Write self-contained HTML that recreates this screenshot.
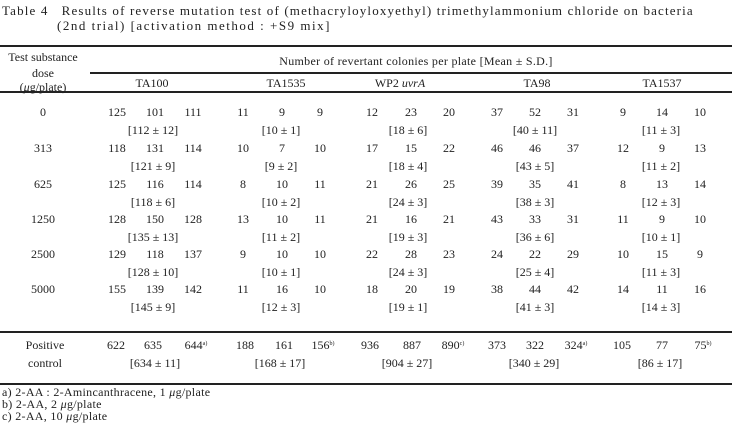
<!DOCTYPE html>
<html><head><meta charset="utf-8"><style>
body{margin:0;width:732px;height:424px;background:#fff;position:relative;overflow:hidden;font-family:"Liberation Serif","Noto Serif CJK SC",serif;color:#222;font-size:12px}
.t{position:absolute;white-space:nowrap;transform:translate(-50%,-50%);line-height:1}
.l{position:absolute;white-space:nowrap;line-height:1}
.r{position:absolute;background:#222}
sup{font-size:6px;vertical-align:4px}
</style></head><body>
<div class="l" style="left:2px;top:4px;font-size:13px;letter-spacing:1.15px">Table 4&nbsp;&nbsp; Results of reverse mutation test of (methacryloyloxyethyl) trimethylammonium chloride on bacteria</div>
<div class="l" style="left:57px;top:19px;font-size:13px;letter-spacing:1.5px">(2nd trial) [activation method : +S9 mix]</div>
<div class="r" style="left:0;top:45px;width:732px;height:2px"></div>
<div class="r" style="left:90px;top:72px;width:642px;height:2px"></div>
<div class="r" style="left:0;top:91px;width:732px;height:2px"></div>
<div class="r" style="left:0;top:331px;width:732px;height:2px"></div>
<div class="r" style="left:0;top:383px;width:732px;height:2px"></div>
<div class="t" style="left:43px;top:57px">Test substance</div>
<div class="t" style="left:43px;top:73px">dose</div>
<div class="t" style="left:43px;top:87px">(<i>μ</i>g/plate)</div>
<div class="t" style="left:416px;top:61px;letter-spacing:0.3px">Number of revertant colonies per plate [Mean ± S.D.]</div>
<div class="t" style="left:152px;top:83px">TA100</div>
<div class="t" style="left:286px;top:83px">TA1535</div>
<div class="t" style="left:400px;top:83px">WP2 <i>uvrA</i></div>
<div class="t" style="left:537px;top:83px">TA98</div>
<div class="t" style="left:662px;top:83px">TA1537</div>

<div class="t" style="left:43px;top:112px">0</div>
<div class="t" style="left:117px;top:112px">125</div><div class="t" style="left:155px;top:112px">101</div><div class="t" style="left:193px;top:112px">111</div>
<div class="t" style="left:243px;top:112px">11</div><div class="t" style="left:282px;top:112px">9</div><div class="t" style="left:320px;top:112px">9</div>
<div class="t" style="left:372px;top:112px">12</div><div class="t" style="left:411px;top:112px">23</div><div class="t" style="left:449px;top:112px">20</div>
<div class="t" style="left:497px;top:112px">37</div><div class="t" style="left:535px;top:112px">52</div><div class="t" style="left:573px;top:112px">31</div>
<div class="t" style="left:623px;top:112px">9</div><div class="t" style="left:662px;top:112px">14</div><div class="t" style="left:700px;top:112px">10</div>
<div class="t" style="left:153px;top:130px">[112 ± 12]</div><div class="t" style="left:281px;top:130px">[10 ± 1]</div><div class="t" style="left:408px;top:130px">[18 ± 6]</div><div class="t" style="left:535px;top:130px">[40 ± 11]</div><div class="t" style="left:661px;top:130px">[11 ± 3]</div>

<div class="t" style="left:43px;top:148px">313</div>
<div class="t" style="left:117px;top:148px">118</div><div class="t" style="left:155px;top:148px">131</div><div class="t" style="left:193px;top:148px">114</div>
<div class="t" style="left:243px;top:148px">10</div><div class="t" style="left:282px;top:148px">7</div><div class="t" style="left:320px;top:148px">10</div>
<div class="t" style="left:372px;top:148px">17</div><div class="t" style="left:411px;top:148px">15</div><div class="t" style="left:449px;top:148px">22</div>
<div class="t" style="left:497px;top:148px">46</div><div class="t" style="left:535px;top:148px">46</div><div class="t" style="left:573px;top:148px">37</div>
<div class="t" style="left:623px;top:148px">12</div><div class="t" style="left:662px;top:148px">9</div><div class="t" style="left:700px;top:148px">13</div>
<div class="t" style="left:153px;top:166px">[121 ± 9]</div><div class="t" style="left:281px;top:166px">[9 ± 2]</div><div class="t" style="left:408px;top:166px">[18 ± 4]</div><div class="t" style="left:535px;top:166px">[43 ± 5]</div><div class="t" style="left:661px;top:166px">[11 ± 2]</div>

<div class="t" style="left:43px;top:184px">625</div>
<div class="t" style="left:117px;top:184px">125</div><div class="t" style="left:155px;top:184px">116</div><div class="t" style="left:193px;top:184px">114</div>
<div class="t" style="left:243px;top:184px">8</div><div class="t" style="left:282px;top:184px">10</div><div class="t" style="left:320px;top:184px">11</div>
<div class="t" style="left:372px;top:184px">21</div><div class="t" style="left:411px;top:184px">26</div><div class="t" style="left:449px;top:184px">25</div>
<div class="t" style="left:497px;top:184px">39</div><div class="t" style="left:535px;top:184px">35</div><div class="t" style="left:573px;top:184px">41</div>
<div class="t" style="left:623px;top:184px">8</div><div class="t" style="left:662px;top:184px">13</div><div class="t" style="left:700px;top:184px">14</div>
<div class="t" style="left:153px;top:202px">[118 ± 6]</div><div class="t" style="left:281px;top:202px">[10 ± 2]</div><div class="t" style="left:408px;top:202px">[24 ± 3]</div><div class="t" style="left:535px;top:202px">[38 ± 3]</div><div class="t" style="left:661px;top:202px">[12 ± 3]</div>

<div class="t" style="left:43px;top:219px">1250</div>
<div class="t" style="left:117px;top:219px">128</div><div class="t" style="left:155px;top:219px">150</div><div class="t" style="left:193px;top:219px">128</div>
<div class="t" style="left:243px;top:219px">13</div><div class="t" style="left:282px;top:219px">10</div><div class="t" style="left:320px;top:219px">11</div>
<div class="t" style="left:372px;top:219px">21</div><div class="t" style="left:411px;top:219px">16</div><div class="t" style="left:449px;top:219px">21</div>
<div class="t" style="left:497px;top:219px">43</div><div class="t" style="left:535px;top:219px">33</div><div class="t" style="left:573px;top:219px">31</div>
<div class="t" style="left:623px;top:219px">11</div><div class="t" style="left:662px;top:219px">9</div><div class="t" style="left:700px;top:219px">10</div>
<div class="t" style="left:153px;top:237px">[135 ± 13]</div><div class="t" style="left:281px;top:237px">[11 ± 2]</div><div class="t" style="left:408px;top:237px">[19 ± 3]</div><div class="t" style="left:535px;top:237px">[36 ± 6]</div><div class="t" style="left:661px;top:237px">[10 ± 1]</div>

<div class="t" style="left:43px;top:254px">2500</div>
<div class="t" style="left:117px;top:254px">129</div><div class="t" style="left:155px;top:254px">118</div><div class="t" style="left:193px;top:254px">137</div>
<div class="t" style="left:243px;top:254px">9</div><div class="t" style="left:282px;top:254px">10</div><div class="t" style="left:320px;top:254px">10</div>
<div class="t" style="left:372px;top:254px">22</div><div class="t" style="left:411px;top:254px">28</div><div class="t" style="left:449px;top:254px">23</div>
<div class="t" style="left:497px;top:254px">24</div><div class="t" style="left:535px;top:254px">22</div><div class="t" style="left:573px;top:254px">29</div>
<div class="t" style="left:623px;top:254px">10</div><div class="t" style="left:662px;top:254px">15</div><div class="t" style="left:700px;top:254px">9</div>
<div class="t" style="left:153px;top:272px">[128 ± 10]</div><div class="t" style="left:281px;top:272px">[10 ± 1]</div><div class="t" style="left:408px;top:272px">[24 ± 3]</div><div class="t" style="left:535px;top:272px">[25 ± 4]</div><div class="t" style="left:661px;top:272px">[11 ± 3]</div>

<div class="t" style="left:43px;top:289px">5000</div>
<div class="t" style="left:117px;top:289px">155</div><div class="t" style="left:155px;top:289px">139</div><div class="t" style="left:193px;top:289px">142</div>
<div class="t" style="left:243px;top:289px">11</div><div class="t" style="left:282px;top:289px">16</div><div class="t" style="left:320px;top:289px">10</div>
<div class="t" style="left:372px;top:289px">18</div><div class="t" style="left:411px;top:289px">20</div><div class="t" style="left:449px;top:289px">19</div>
<div class="t" style="left:497px;top:289px">38</div><div class="t" style="left:535px;top:289px">44</div><div class="t" style="left:573px;top:289px">42</div>
<div class="t" style="left:623px;top:289px">14</div><div class="t" style="left:662px;top:289px">11</div><div class="t" style="left:700px;top:289px">16</div>
<div class="t" style="left:153px;top:307px">[145 ± 9]</div><div class="t" style="left:281px;top:307px">[12 ± 3]</div><div class="t" style="left:408px;top:307px">[19 ± 1]</div><div class="t" style="left:535px;top:307px">[41 ± 3]</div><div class="t" style="left:661px;top:307px">[14 ± 3]</div>

<div class="t" style="left:45px;top:345px">Positive</div>
<div class="t" style="left:45px;top:363px">control</div>
<div class="t" style="left:116px;top:345px">622</div><div class="t" style="left:153px;top:345px">635</div><div class="t" style="left:196px;top:345px">644<sup>a)</sup></div>
<div class="t" style="left:245px;top:345px">188</div><div class="t" style="left:284px;top:345px">161</div><div class="t" style="left:323px;top:345px">156<sup>b)</sup></div>
<div class="t" style="left:370px;top:345px">936</div><div class="t" style="left:412px;top:345px">887</div><div class="t" style="left:453px;top:345px">890<sup>c)</sup></div>
<div class="t" style="left:497px;top:345px">373</div><div class="t" style="left:535px;top:345px">322</div><div class="t" style="left:576px;top:345px">324<sup>a)</sup></div>
<div class="t" style="left:622px;top:345px">105</div><div class="t" style="left:662px;top:345px">77</div><div class="t" style="left:703px;top:345px">75<sup>b)</sup></div>
<div class="t" style="left:155px;top:363px">[634 ± 11]</div><div class="t" style="left:280px;top:363px">[168 ± 17]</div><div class="t" style="left:407px;top:363px">[904 ± 27]</div><div class="t" style="left:534px;top:363px">[340 ± 29]</div><div class="t" style="left:660px;top:363px">[86 ± 17]</div>

<div class="l" style="left:2px;top:386px;font-size:12px;letter-spacing:0.3px">a) 2-AA : 2-Amincanthracene, 1 <i>μ</i>g/plate</div>
<div class="l" style="left:2px;top:398px;font-size:12px;letter-spacing:0.3px">b) 2-AA, 2 <i>μ</i>g/plate</div>
<div class="l" style="left:2px;top:410px;font-size:12px;letter-spacing:0.3px">c) 2-AA, 10 <i>μ</i>g/plate</div>
</body></html>
